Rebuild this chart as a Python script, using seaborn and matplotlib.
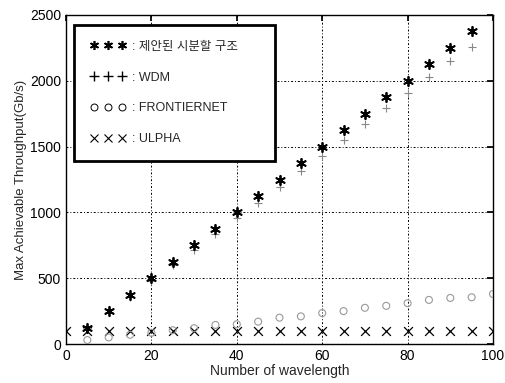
import numpy as np
import pandas as pd
import matplotlib
matplotlib.use("Agg")
import matplotlib.pyplot as plt
from matplotlib.lines import Line2D
import seaborn as sns

x_main = [5, 10, 15, 20, 25, 30, 35, 40, 45, 50, 55, 60, 65, 70, 75, 80, 85, 90, 95]
proposed = [125, 250, 375, 500, 625, 750, 875, 1000, 1125, 1250, 1375, 1500, 1625, 1750, 1875, 2000, 2125, 2250, 2375]
wdm = [120, 240, 360, 480, 600, 715, 835, 955, 1075, 1195, 1315, 1430, 1550, 1670, 1790, 1910, 2030, 2150, 2260]
x_front = [5, 10, 15, 20, 25, 30, 35, 40, 45, 50, 55, 60, 65, 70, 75, 80, 85, 90, 95, 100]
frontiernet = [30, 50, 70, 85, 105, 120, 145, 150, 170, 200, 210, 235, 250, 275, 290, 310, 335, 350, 355, 380]
x_ulpha = [0, 5, 10, 15, 20, 25, 30, 35, 40, 45, 50, 55, 60, 65, 70, 75, 80, 85, 90, 95, 100]
ulpha = [100] * 21

labels = [": 제안된 시분할 구조      ", ": WDM", ": FRONTIERNET", ": ULPHA"]

sns.set_theme(style="white")
plt.rcParams['font.family'] = ['Liberation Sans', 'Noto Sans CJK KR', 'DejaVu Sans']
plt.rcParams['xtick.direction'] = 'in'
plt.rcParams['ytick.direction'] = 'in'

fig = plt.figure(figsize=(5.05, 3.83), dpi=100)
ax = fig.add_axes([66/505, 1 - 344/383, (493-66)/505, (344-15)/383])

sns.scatterplot(x=x_ulpha, y=ulpha, marker='x', s=40, color='black', linewidth=0.9, ax=ax, zorder=3)
sns.scatterplot(x=x_front, y=frontiernet, marker='o', s=25, facecolor='none', edgecolor='#999999', linewidth=0.8, ax=ax, zorder=3)
sns.scatterplot(x=x_main, y=wdm, marker='+', s=40, color='#888888', linewidth=0.8, ax=ax, zorder=3)
sns.scatterplot(x=x_main, y=proposed, marker=(6, 2, 0), s=45, color='black', linewidth=1.3, ax=ax, zorder=4)

ax.set_xlim(0, 100)
ax.set_ylim(0, 2500)
ax.set_xticks([0, 20, 40, 60, 80, 100])
ax.set_yticks([0, 500, 1000, 1500, 2000, 2500])
ax.grid(True, color='black', linestyle=(0, (2, 2, 1, 2)), linewidth=0.7)
for sp in ax.spines.values():
    sp.set_color('black')
    sp.set_linewidth(1.0)
ax.tick_params(labelsize=10, colors='black', length=4, top=True, right=True)
ax.set_xlabel("Number of wavelength", fontsize=10, labelpad=1)
ax.set_ylabel("Max Achievable Throughput(Gb/s)", fontsize=9.5, labelpad=2)

handles = [
    Line2D([], [], linestyle='none', marker=(6, 2, 0), color='black', markersize=6.5, markeredgewidth=1.2),
    Line2D([], [], linestyle='none', marker='+', color='black', markersize=7, markeredgewidth=1.0),
    Line2D([], [], linestyle='none', marker='o', markerfacecolor='none', markeredgecolor='black', markersize=5, markeredgewidth=0.7),
    Line2D([], [], linestyle='none', marker='x', color='black', markersize=6, markeredgewidth=0.8),
]
leg = ax.legend(handles, labels, loc='upper left', numpoints=3, fancybox=False,
                frameon=True, fontsize=9, handlelength=2.8, handletextpad=0.5,
                labelspacing=1.5, borderpad=1.3, bbox_to_anchor=(0.005, 0.99))
leg.get_frame().set_edgecolor('black')
leg.get_frame().set_linewidth(2.0)
leg.get_frame().set_alpha(1)

fig.savefig("out.png", dpi=100)
